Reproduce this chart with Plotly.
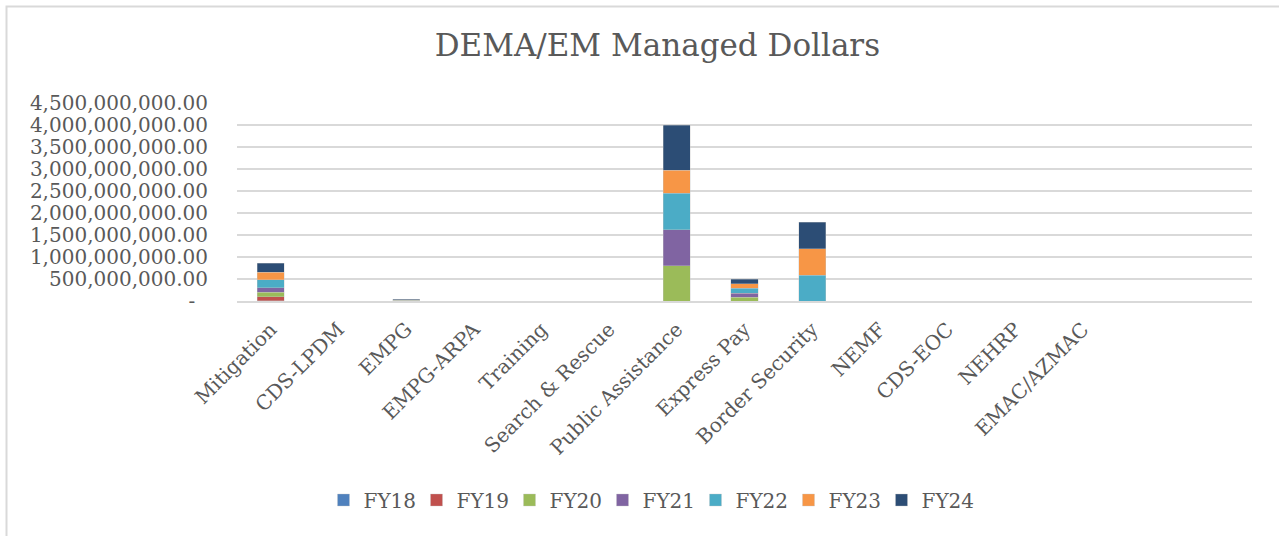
import plotly.graph_objects as go

categories = ["Mitigation", "CDS-LPDM", "EMPG", "EMPG-ARPA", "Training", "Search & Rescue",
              "Public Assistance", "Express Pay", "Border Security", "NEMF", "CDS-EOC", "NEHRP",
              "EMAC/AZMAC", "", ""]

series_names = ["FY18", "FY19", "FY20", "FY21", "FY22", "FY23", "FY24"]

fy18 = [10e6, 0, 5e6, 0, 0, 0, 0, 0, 0, 0, 0, 0, 0, 0, 0]
fy19 = [90e6, 0, 5e6, 0, 0, 0, 0, 0, 0, 0, 0, 0, 0, 0, 0]
fy20 = [100e6, 0, 5e6, 0, 0, 0, 800e6, 80e6, 0, 0, 0, 0, 0, 0, 0]
fy21 = [100e6, 0, 5e6, 0, 0, 0, 820e6, 100e6, 0, 0, 0, 0, 0, 0, 0]
fy22 = [180e6, 0, 5e6, 0, 0, 0, 830e6, 105e6, 590e6, 0, 0, 0, 0, 0, 0]
fy23 = [175e6, 0, 5e6, 0, 0, 0, 520e6, 105e6, 600e6, 0, 0, 0, 0, 0, 0]
fy24 = [200e6, 0, 5e6, 0, 0, 0, 1030e6, 105e6, 600e6, 0, 0, 0, 0, 0, 0]

series_values = [fy18, fy19, fy20, fy21, fy22, fy23, fy24]
colors = ["#4f81bd", "#c0504d", "#9bbb59", "#8064a2", "#4bacc6", "#f79646", "#2c4d75"]

y_tick_vals = [0, 500e6, 1000e6, 1500e6, 2000e6, 2500e6, 3000e6, 3500e6, 4000e6, 4500e6]
y_tick_text = ["-\u00a0\u00a0" if v == 0 else f"{v:,.2f}" for v in y_tick_vals]

FONT = "DejaVu Serif"
GRAY = "#595959"

x_idx = list(range(len(categories)))

fig = go.Figure()
for name, vals, col in zip(series_names, series_values, colors):
    fig.add_trace(go.Bar(x=x_idx, y=vals, name=name,
                         marker=dict(color=col, line=dict(width=0.6, color="rgba(200,200,200,0.6)"))))

L, R, T, B = 237, 1252, 103, 301
W, H = R - L, B - T
def px_x(p):
    return (p - L) / W
def px_y(p):
    return (B - p) / H

fig.update_layout(
    barmode="stack",
    bargap=0.6,
    width=1279, height=536,
    margin=dict(l=L, r=1279 - R, t=T, b=536 - B, autoexpand=False),
    paper_bgcolor="white", plot_bgcolor="white",
    font=dict(family=FONT, color=GRAY, size=20),
    title=dict(text="DEMA/EM Managed Dollars", x=0.514, xanchor="center", y=1 - 45 / 536, yanchor="middle",
               font=dict(family=FONT, size=31, color=GRAY)),
    legend=dict(orientation="h", x=px_x(649), xanchor="center", y=px_y(500), yanchor="middle",
                font=dict(family=FONT, size=20, color=GRAY), traceorder="normal",
                entrywidth=48, entrywidthmode="pixels"),
    xaxis=dict(tickmode="array", tickvals=x_idx, ticktext=categories, range=[-0.5, len(categories) - 0.5],
               tickangle=-45, showgrid=False, showline=True, linecolor="#d9d9d9", linewidth=1.5,
               ticks="", ticklabelstandoff=7, tickfont=dict(family=FONT, size=20, color=GRAY)),
    yaxis=dict(tickmode="array", tickvals=y_tick_vals, ticktext=y_tick_text, range=[0, 4500e6],
               showgrid=True, gridcolor="#d9d9d9", gridwidth=1.5, zeroline=False, showline=False,
               ticks="", ticklabelstandoff=28, tickfont=dict(family=FONT, size=20, color=GRAY)),
    shapes=[dict(type="rect", xref="paper", yref="paper",
                 x0=px_x(6.5), x1=px_x(1300), y0=px_y(560), y1=px_y(6.5),
                 line=dict(color="#d9d9d9", width=2), fillcolor="rgba(0,0,0,0)", layer="below")],
)

fig.write_html("out.html", config={"displayModeBar": False},
               post_script="document.body.style.margin='0';document.body.style.overflow='hidden';")
